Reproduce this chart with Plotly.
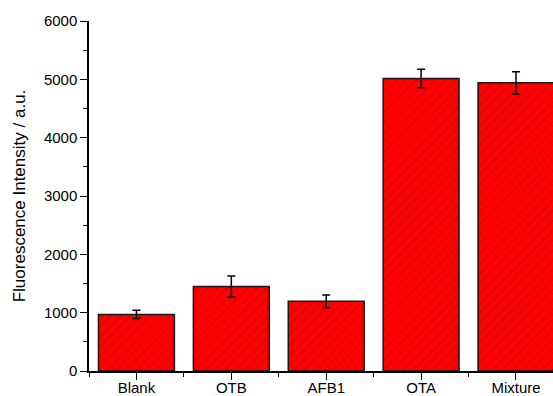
import plotly.graph_objects as go

# Fluorescence response for each sample
categories = ["Blank", "OTB", "AFB1", "OTA", "Mixture"]
intensity = [970, 1450, 1195, 5015, 4940]
errors = [70, 180, 110, 160, 190]

positions = list(range(len(categories)))

fig = go.Figure()
fig.add_trace(go.Bar(
    x=positions,
    y=intensity,
    width=0.8,
    marker=dict(
        color="#ff0000",
        line=dict(color="#1a1a1a", width=1.5),
        pattern=dict(shape="/", fgcolor="#5a0000", bgcolor="#ff0000",
                     size=7, solidity=0.12, fillmode="overlay"),
    ),
    error_y=dict(type="data", array=errors, visible=True,
                 color="black", thickness=1.5, width=4),
))

font = "Liberation Sans, Arial, sans-serif"
fig.update_layout(
    width=553, height=396,
    margin=dict(l=89, r=0, t=21, b=25),
    plot_bgcolor="white", paper_bgcolor="white",
    showlegend=False,
    font=dict(family=font, size=15, color="black"),
)
fig.update_xaxes(
    range=[-0.5, 4.39],
    automargin=False,
    tickmode="array", tickvals=positions, ticktext=categories,
    ticks="outside", ticklen=7, tickwidth=1.2, tickcolor="black",
    ticklabelstandoff=-5,
    minor=dict(tick0=0.5, dtick=1, ticks="outside", ticklen=4,
               tickwidth=1.2, tickcolor="black"),
    showline=True, linecolor="black", linewidth=1.5,
    showgrid=False, zeroline=False,
    tickfont=dict(size=15),
)
fig.update_yaxes(
    range=[0, 6000],
    automargin=False,
    tickvals=[0, 1000, 2000, 3000, 4000, 5000, 6000],
    ticks="outside", ticklen=7, tickwidth=1.2, tickcolor="black",
    minor=dict(dtick=500, ticks="outside", ticklen=4,
               tickwidth=1.2, tickcolor="black"),
    showline=True, linecolor="black", linewidth=1.5,
    showgrid=False, zeroline=False,
    tickfont=dict(size=15),
    title=dict(text="Fluorescence Intensity / a.u.", font=dict(size=17),
               standoff=14),
)

fig.write_html("out.html")
